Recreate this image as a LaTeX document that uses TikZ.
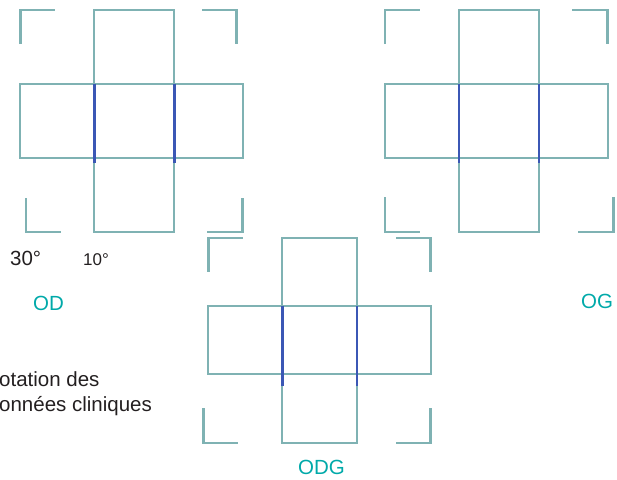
\documentclass[tikz,border=0pt]{standalone}
\usepackage{fontspec}
\setmainfont{Liberation Sans}
\definecolor{gridteal}{HTML}{7FB2B3}
\definecolor{axisblue}{HTML}{3B57B5}
\definecolor{labelteal}{HTML}{00A9A9}
\definecolor{notegrey}{HTML}{231F20}
\tikzset{
  cell/.style={draw=gridteal,line width=1.8pt},
  midline/.style={draw=axisblue,line width=2.4pt},
  corner/.style={draw=gridteal,line width=2.6pt,line join=miter},
  eyename/.style={text=labelteal,font=\fontsize{20.5}{24}\selectfont,inner sep=0pt,anchor=base},
  note/.style={text=notegrey,font=\fontsize{20.5}{25}\selectfont,inner sep=0pt,anchor=base west},
}
\begin{document}
\begin{tikzpicture}[x=1pt,y=-1pt]
    \useasboundingbox (0,0) rectangle (617,479);

    % OD
    \draw[cell] (20.3,84) rectangle (242.7,157.7);
    \draw[cell] (94.3,10) rectangle (174.3,232);
    \draw[midline] (94.3,84) -- (94.3,163.3);
    \draw[midline] (174.3,84) -- (174.3,163.3);
    \draw[corner] (20.3,44) -- (20.3,10) -- (55,10);
    \draw[corner] (202.3,10) -- (236.7,10) -- (236.7,44);
    \draw[corner] (26,198) -- (26,232) -- (61,232);
    \draw[corner] (207.3,232) -- (242.7,232) -- (242.7,198);

    % OG
    \draw[cell] (385,84) rectangle (607.7,158);
    \draw[cell] (459,10) rectangle (539,232);
    \draw[midline] (459,84) -- (459,163.3);
    \draw[midline] (539,84) -- (539,163.3);
    \draw[corner] (385,44) -- (385,10) -- (420,10);
    \draw[corner] (572.3,10) -- (607.3,10) -- (607.3,44);
    \draw[corner] (385,197) -- (385,232) -- (420,232);
    \draw[corner] (578.3,232) -- (613.3,232) -- (613.3,197);

    % ODG
    \draw[cell] (208.3,306) rectangle (430.7,374.3);
    \draw[cell] (282.3,237.7) rectangle (356.7,443);
    \draw[midline] (282.3,306) -- (282.3,385.7);
    \draw[midline] (356.7,306) -- (356.7,385.7);
    \draw[corner] (208.7,271.7) -- (208.7,238) -- (243.3,238);
    \draw[corner] (396,238) -- (430.7,238) -- (430.7,271.7);
    \draw[corner] (203.3,408.3) -- (203.3,443) -- (237.7,443);
    \draw[corner] (396,443) -- (430.7,443) -- (430.7,408.3);

    \node[note] (deg30) at (10,265) {30°};
    \node[note,font=\fontsize{17}{20}\selectfont] (deg10) at (83,265) {10°};
    \node[eyename] (od) at (48.5,310) {OD};
    \node[eyename] (og) at (597,308) {OG};
    \node[eyename] (odg) at (321.5,474) {ODG};
    \node[note] (rot1) at (-1,386.7) {otation des};
    \node[note] (rot2) at (-1,411.7) {onnées cliniques};
\end{tikzpicture}
\end{document}
